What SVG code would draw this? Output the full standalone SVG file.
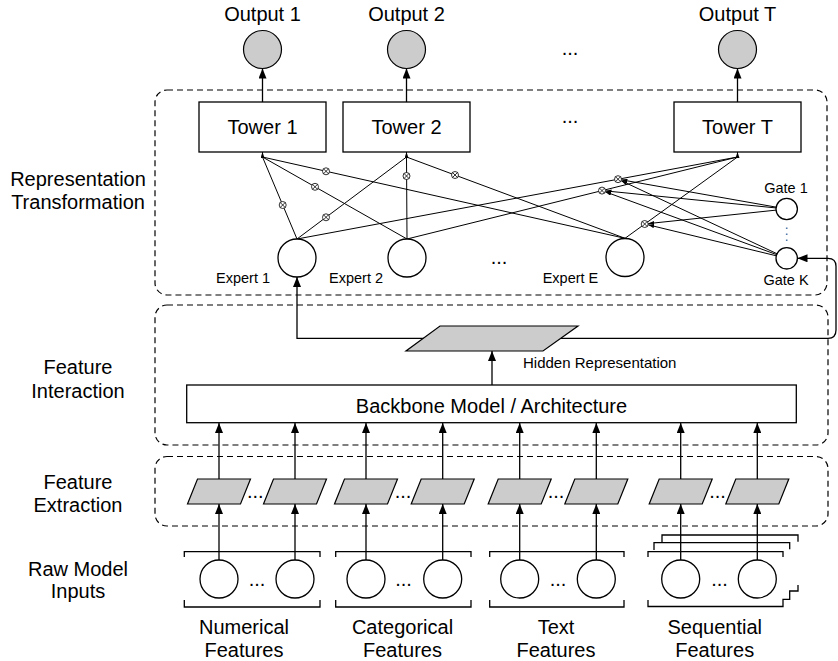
<svg xmlns="http://www.w3.org/2000/svg" width="838" height="661" viewBox="0 0 838 661">
<style>
.dash{fill:none;stroke:#000;stroke-width:1.2;stroke-dasharray:6 4}
.box{fill:#fff;stroke:#000;stroke-width:1.3}
.wc{fill:#fff;stroke:#000;stroke-width:1.3}
.gray{fill:#ccc;stroke:#000;stroke-width:1.2}
.ln{fill:none;stroke:#000;stroke-width:1}
.lnb{fill:none;stroke:#000;stroke-width:1.3}
.a{marker-end:url(#arr)}
.sa{marker-end:url(#sarr)}
.br{fill:none;stroke:#000;stroke-width:1.3}
text{font-family:"Liberation Sans",Arial,Helvetica,sans-serif;fill:#000}
.t20{font-size:20px;text-anchor:middle}
.t14{font-size:14.5px;text-anchor:middle}
.t15{font-size:15px;text-anchor:start}
.vd{fill:none;stroke:#4f79a8;stroke-width:1.6;stroke-dasharray:1.6 4.4}
</style>
<defs>
<marker id="arr" viewBox="0 0 10 8" refX="10" refY="4" markerWidth="10" markerHeight="8" markerUnits="userSpaceOnUse" orient="auto"><path d="M0,0 L10,4 L0,8 z" fill="#000"/></marker>
<marker id="sarr" viewBox="0 0 6 4" refX="6" refY="2" markerWidth="6" markerHeight="4" markerUnits="userSpaceOnUse" orient="auto"><path d="M0,0 L6,2 L0,4 z" fill="#000"/></marker>
<g id="ot"><circle r="3.5" fill="#fff" stroke="#000" stroke-width="0.8"/><path d="M-2.5,-2.5 L2.5,2.5 M-2.5,2.5 L2.5,-2.5" stroke="#000" stroke-width="0.8"/></g>
<polygon id="para" points="-21.5,-12.5 31.5,-12.5 21.5,12.5 -31.5,12.5" class="gray"/>
</defs>

<g id="layers">
<rect class="dash" x="155" y="90" width="672" height="205" rx="12"/>
<rect class="dash" x="155" y="305" width="673" height="140" rx="12"/>
<rect class="dash" x="155" y="456.5" width="673" height="69.5" rx="12"/>
<text class="t20" x="78" y="186">Representation</text>
<text class="t20" x="78" y="209">Transformation</text>
<text class="t20" x="78" y="374">Feature</text>
<text class="t20" x="78" y="397.5">Interaction</text>
<text class="t20" x="78" y="488.5">Feature</text>
<text class="t20" x="78" y="511.5">Extraction</text>
<text class="t20" x="78" y="576">Raw Model</text>
<text class="t20" x="78" y="598">Inputs</text>
</g>

<g id="connectors">
<path class="lnb a" d="M262.5,102 V68.5"/>
<path class="lnb a" d="M406.5,102 V68.5"/>
<path class="lnb a" d="M737.5,102 V68.5"/>
<path class="ln" d="M262.5,157 L297,239 M262.5,157 L407,239 M262.5,157 L625,238.3"/>
<path class="ln" d="M406.5,157 L297,239 M406.5,157 L407,239 M406.5,157 L625,238.3"/>
<path class="ln" d="M737.5,157 L297,239 M737.5,157 L407,239 M737.5,157 L625,238.3"/>
<path class="ln sa" d="M262.5,158 V152"/>
<path class="ln sa" d="M406.5,158 V152"/>
<path class="ln sa" d="M737.5,158 V152"/>
<path class="ln sa" d="M786.7,209 L621.4,179.8"/>
<path class="ln sa" d="M786.7,209 L605.5,190.9"/>
<path class="ln sa" d="M786.7,209 L648.2,223.6"/>
<path class="ln sa" d="M786.7,258.3 L621.2,180.7"/>
<path class="ln sa" d="M786.7,258.3 L605.3,191.8"/>
<path class="ln sa" d="M786.7,258.3 L648.1,224.8"/>
<path class="vd" d="M786.7,227.5 V242"/>
<path class="lnb a" d="M440,338.3 H297 V277"/>
<path class="lnb a" d="M560,338.3 H828 Q836,338.3 836,330 V266.3 Q836,258.3 828,258.3 H797.5"/>
<path class="lnb a" d="M492,385 V351"/>
<path class="lnb a" d="M219,479 V423"/>
<path class="lnb a" d="M295,479 V423"/>
<path class="lnb a" d="M366,479 V423"/>
<path class="lnb a" d="M442.7,479 V423"/>
<path class="lnb a" d="M519.7,479 V423"/>
<path class="lnb a" d="M596.3,479 V423"/>
<path class="lnb a" d="M680.7,479 V423"/>
<path class="lnb a" d="M757.3,479 V423"/>
<path class="lnb a" d="M219,560 V504"/>
<path class="lnb a" d="M295,560 V504"/>
<path class="lnb a" d="M366,560 V504"/>
<path class="lnb a" d="M442.7,560 V504"/>
<path class="lnb a" d="M519.7,560 V504"/>
<path class="lnb a" d="M596.3,560 V504"/>
<path class="lnb a" d="M680.7,560 V504"/>
<path class="lnb a" d="M757.3,560 V504"/>
</g>

<g id="multipliers">
<use href="#ot" x="282.7" y="205"/>
<use href="#ot" x="315" y="186.8"/>
<use href="#ot" x="326" y="171.3"/>
<use href="#ot" x="326" y="217.3"/>
<use href="#ot" x="406.5" y="176"/>
<use href="#ot" x="455" y="175"/>
<use href="#ot" x="618" y="179.2"/>
<use href="#ot" x="602" y="190.6"/>
<use href="#ot" x="644.7" y="224"/>
</g>

<g id="output1"><circle class="gray" cx="262.5" cy="49.5" r="19"/><text class="t20" x="262.5" y="20.5">Output 1</text></g>
<g id="output2"><circle class="gray" cx="406.5" cy="49.5" r="19"/><text class="t20" x="406.5" y="20.5">Output 2</text></g>
<g id="outputT"><circle class="gray" cx="737.5" cy="49.5" r="19"/><text class="t20" x="737.5" y="20.5">Output T</text></g>
<g id="ellipses"><text class="t20" x="570" y="54.5">...</text><text class="t20" x="570" y="123">...</text><text class="t20" x="499" y="264">...</text></g>

<g id="tower1"><rect class="box" x="199" y="102" width="127" height="50"/><text class="t20" x="262.5" y="134">Tower 1</text></g>
<g id="tower2"><rect class="box" x="343" y="102" width="127" height="50"/><text class="t20" x="406.5" y="134">Tower 2</text></g>
<g id="towerT"><rect class="box" x="674" y="102" width="127" height="50"/><text class="t20" x="737.5" y="134">Tower T</text></g>

<g id="expert1"><circle class="wc" cx="297" cy="258" r="19"/><text class="t14" x="243" y="283">Expert 1</text></g>
<g id="expert2"><circle class="wc" cx="407" cy="258" r="19"/><text class="t14" x="356" y="283">Expert 2</text></g>
<g id="expertE"><circle class="wc" cx="625" cy="257.5" r="19"/><text class="t14" x="570.5" y="283">Expert E</text></g>

<g id="gate1"><circle class="wc" cx="786.7" cy="209" r="10.7"/><text class="t14" x="786" y="193">Gate 1</text></g>
<g id="gateK"><circle class="wc" cx="786.7" cy="258.3" r="10.7"/><text class="t14" x="786" y="285">Gate K</text></g>

<g id="hidden"><polygon class="gray" points="440,326 578,326 543,351 406,351"/><text class="t15" x="523" y="367.5">Hidden Representation</text></g>

<g id="backbone"><rect class="box" x="186.7" y="385" width="609.6" height="37.7"/><text class="t20" x="491.5" y="412.6">Backbone Model / Architecture</text></g>

<g id="extractors">
<use href="#para" x="219" y="491.5"/>
<use href="#para" x="295" y="491.5"/>
<use href="#para" x="366" y="491.5"/>
<use href="#para" x="442.7" y="491.5"/>
<use href="#para" x="519.7" y="491.5"/>
<use href="#para" x="596.3" y="491.5"/>
<use href="#para" x="680.7" y="491.5"/>
<use href="#para" x="757.3" y="491.5"/>
<text class="t20" x="255.3" y="498">...</text>
<text class="t20" x="403" y="498">...</text>
<text class="t20" x="556" y="498">...</text>
<text class="t20" x="717.5" y="498">...</text>
</g>

<g id="numerical">
<path class="br" d="M184.3,557 V551.7 H320 V557 M184.3,600 V607 H320 V600"/>
<circle class="wc" cx="219" cy="579" r="19"/><circle class="wc" cx="295" cy="579" r="19"/>
<text class="t20" x="257" y="586">...</text>
<text class="t20" x="244" y="633.5">Numerical</text><text class="t20" x="244" y="657">Features</text>
</g>
<g id="categorical">
<path class="br" d="M335.7,557 V551.7 H471 V557 M335.7,600 V607 H471 V600"/>
<circle class="wc" cx="366" cy="579" r="19"/><circle class="wc" cx="442.7" cy="579" r="19"/>
<text class="t20" x="403.5" y="586">...</text>
<text class="t20" x="402.5" y="633.5">Categorical</text><text class="t20" x="402.5" y="657">Features</text>
</g>
<g id="text">
<path class="br" d="M489.7,557 V551.7 H624 V557 M489.7,600 V607 H624 V600"/>
<circle class="wc" cx="519.7" cy="579" r="19"/><circle class="wc" cx="596.3" cy="579" r="19"/>
<text class="t20" x="558" y="586">...</text>
<text class="t20" x="556" y="633.5">Text</text><text class="t20" x="556" y="657">Features</text>
</g>
<g id="sequential">
<path class="br" d="M662,542.7 V535 H798 V541.7 M654,550 V542.7 H789.7 V549.3 M648,557 V551.7 H783 V557 M648,600 V606.5 H783 V599.3 H789.7 V591 H798 V585"/>
<circle class="wc" cx="680.7" cy="579" r="19"/><circle class="wc" cx="757.3" cy="579" r="19"/>
<text class="t20" x="719.5" y="586">...</text>
<text class="t20" x="714.7" y="633.5">Sequential</text><text class="t20" x="714.7" y="657">Features</text>
</g>
</svg>
